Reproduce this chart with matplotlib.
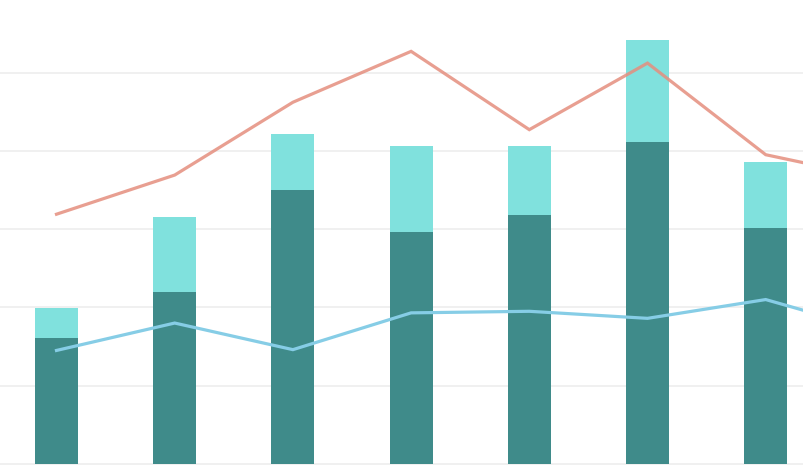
import matplotlib
matplotlib.use("Agg")
import matplotlib.pyplot as plt
import numpy as np

categories = ["C1", "C2", "C3", "C4", "C5", "C6", "C7", "C8"]
dark_values = [161, 220, 350, 296, 318, 411, 301]
light_values = [38, 95, 71, 110, 88, 130, 85]
red_line = [319, 369, 462, 527, 427, 512, 395, 363]
blue_line = [145, 180, 146, 193, 195, 186, 210, 167]
grid_ticks = [0, 100, 200, 300, 400, 500]

fig = plt.figure(figsize=(8.04, 4.70), dpi=100)
ax = fig.add_axes([0, 0, 1, 1])

xb = np.arange(len(dark_values))
xl = np.arange(len(red_line))

ax.bar(xb, dark_values, width=0.364, color="#3F8B8A", zorder=2)
ax.bar(xb, light_values, width=0.364, bottom=dark_values, color="#80E1DD", zorder=2)
ax.plot(xl, red_line, color="#E58E7E", lw=2.3, alpha=0.85, zorder=3, solid_joinstyle="miter")
ax.plot(xl, blue_line, color="#86CDE6", lw=2.3, zorder=3, solid_joinstyle="miter")

ax.set_yticks(grid_ticks)
ax.set_xlim(-0.478, 6.324)
ax.set_ylim(-7.7, 592.6)
ax.yaxis.grid(True, color="#EEEEEE", lw=1.2, zorder=0)
ax.set_axisbelow(True)
ax.tick_params(left=False, bottom=False, labelleft=False, labelbottom=False)
for s in ax.spines.values():
    s.set_visible(False)

fig.savefig("out.png", dpi=100, facecolor="white")
